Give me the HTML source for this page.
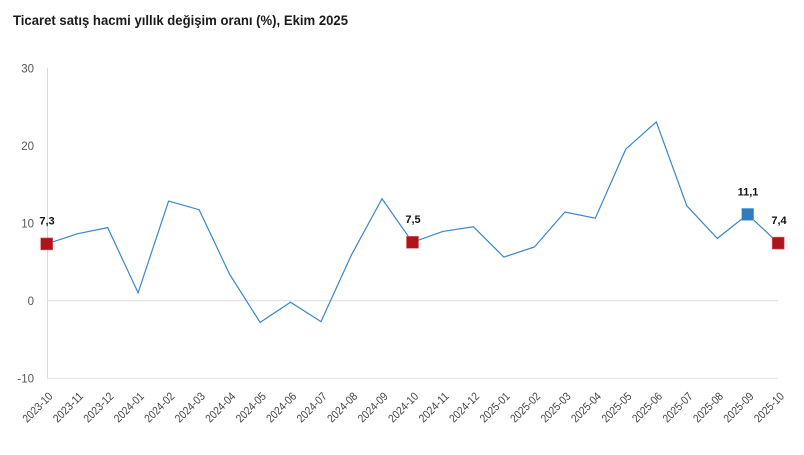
<!DOCTYPE html>
<html>
<head>
<meta charset="utf-8">
<style>
html,body{margin:0;padding:0;background:#fff;}
svg{display:block;}
text{font-family:"Liberation Sans",sans-serif;}
</style>
</head>
<body>
<svg width="804" height="455" viewBox="0 0 804 455" xmlns="http://www.w3.org/2000/svg">
<rect width="804" height="455" fill="#fff"/>
<text x="13" y="25" font-size="14" font-weight="bold" fill="#1a1a1a" textLength="335" lengthAdjust="spacingAndGlyphs">Ticaret satış hacmi yıllık değişim oranı (%), Ekim 2025</text>

<!-- axes -->
<line x1="47.5" y1="68" x2="47.5" y2="378.5" stroke="#d9d9d9" stroke-width="1"/>
<line x1="47" y1="300.6" x2="778" y2="300.6" stroke="#e6e6e6" stroke-width="1.5"/>
<line x1="47" y1="378.3" x2="778" y2="378.3" stroke="#e0e0e0" stroke-width="1"/>

<!-- y labels -->
<g font-size="11.5" fill="#555" text-anchor="end">
<text x="34" y="72.5">30</text>
<text x="34" y="150">20</text>
<text x="34" y="227.5">10</text>
<text x="34" y="305">0</text>
<text x="34" y="382.5">-10</text>
</g>

<!-- line -->
<polyline fill="none" stroke="#3b86c6" stroke-width="1.2" stroke-linejoin="miter" points="
46.7,243.9 77.2,233.8 107.7,227.6 138.1,292.8 168.6,201.1 199.1,209.7 229.6,274.2 260.1,322.4 290.5,302.2 321.0,321.6 351.5,254.8 382.0,198.8 412.5,242.3 442.9,231.4 473.4,226.8 503.9,257.1 534.4,247.0 564.9,212.0 595.3,218.2 625.8,149.1 656.3,121.9 686.8,205.8 717.3,238.4 747.7,214.4 778.2,243.1"/>

<!-- markers -->
<rect x="40.7" y="237.9" width="12" height="12" fill="#ad141c" stroke="#d9666b" stroke-width="0.6"/>
<rect x="406.5" y="236.3" width="12" height="12" fill="#ad141c" stroke="#d9666b" stroke-width="0.6"/>
<rect x="741.7" y="208.4" width="12" height="12" fill="#2f7dbd" stroke="#7fb0da" stroke-width="0.6"/>
<rect x="772.2" y="237.1" width="12" height="12" fill="#ad141c" stroke="#d9666b" stroke-width="0.6"/>

<!-- data labels -->
<g font-size="11" font-weight="bold" fill="#111" text-anchor="middle">
<text x="47" y="224.5">7,3</text>
<text x="413" y="223">7,5</text>
<text x="748" y="195.5">11,1</text>
<text x="779" y="224">7,4</text>
</g>

<!-- x labels -->
<g font-size="11.5" fill="#444" text-anchor="end">
<text transform="translate(53.3,397) rotate(-45)" textLength="37" lengthAdjust="spacingAndGlyphs">2023-10</text>
<text transform="translate(83.8,397) rotate(-45)" textLength="37" lengthAdjust="spacingAndGlyphs">2023-11</text>
<text transform="translate(114.3,397) rotate(-45)" textLength="37" lengthAdjust="spacingAndGlyphs">2023-12</text>
<text transform="translate(144.7,397) rotate(-45)" textLength="37" lengthAdjust="spacingAndGlyphs">2024-01</text>
<text transform="translate(175.2,397) rotate(-45)" textLength="37" lengthAdjust="spacingAndGlyphs">2024-02</text>
<text transform="translate(205.7,397) rotate(-45)" textLength="37" lengthAdjust="spacingAndGlyphs">2024-03</text>
<text transform="translate(236.2,397) rotate(-45)" textLength="37" lengthAdjust="spacingAndGlyphs">2024-04</text>
<text transform="translate(266.7,397) rotate(-45)" textLength="37" lengthAdjust="spacingAndGlyphs">2024-05</text>
<text transform="translate(297.1,397) rotate(-45)" textLength="37" lengthAdjust="spacingAndGlyphs">2024-06</text>
<text transform="translate(327.6,397) rotate(-45)" textLength="37" lengthAdjust="spacingAndGlyphs">2024-07</text>
<text transform="translate(358.1,397) rotate(-45)" textLength="37" lengthAdjust="spacingAndGlyphs">2024-08</text>
<text transform="translate(388.6,397) rotate(-45)" textLength="37" lengthAdjust="spacingAndGlyphs">2024-09</text>
<text transform="translate(419.1,397) rotate(-45)" textLength="37" lengthAdjust="spacingAndGlyphs">2024-10</text>
<text transform="translate(449.5,397) rotate(-45)" textLength="37" lengthAdjust="spacingAndGlyphs">2024-11</text>
<text transform="translate(480.0,397) rotate(-45)" textLength="37" lengthAdjust="spacingAndGlyphs">2024-12</text>
<text transform="translate(510.5,397) rotate(-45)" textLength="37" lengthAdjust="spacingAndGlyphs">2025-01</text>
<text transform="translate(541.0,397) rotate(-45)" textLength="37" lengthAdjust="spacingAndGlyphs">2025-02</text>
<text transform="translate(571.5,397) rotate(-45)" textLength="37" lengthAdjust="spacingAndGlyphs">2025-03</text>
<text transform="translate(601.9,397) rotate(-45)" textLength="37" lengthAdjust="spacingAndGlyphs">2025-04</text>
<text transform="translate(632.4,397) rotate(-45)" textLength="37" lengthAdjust="spacingAndGlyphs">2025-05</text>
<text transform="translate(662.9,397) rotate(-45)" textLength="37" lengthAdjust="spacingAndGlyphs">2025-06</text>
<text transform="translate(693.4,397) rotate(-45)" textLength="37" lengthAdjust="spacingAndGlyphs">2025-07</text>
<text transform="translate(723.9,397) rotate(-45)" textLength="37" lengthAdjust="spacingAndGlyphs">2025-08</text>
<text transform="translate(754.3,397) rotate(-45)" textLength="37" lengthAdjust="spacingAndGlyphs">2025-09</text>
<text transform="translate(784.8,397) rotate(-45)" textLength="37" lengthAdjust="spacingAndGlyphs">2025-10</text>
</g>
</svg>
</body>
</html>
